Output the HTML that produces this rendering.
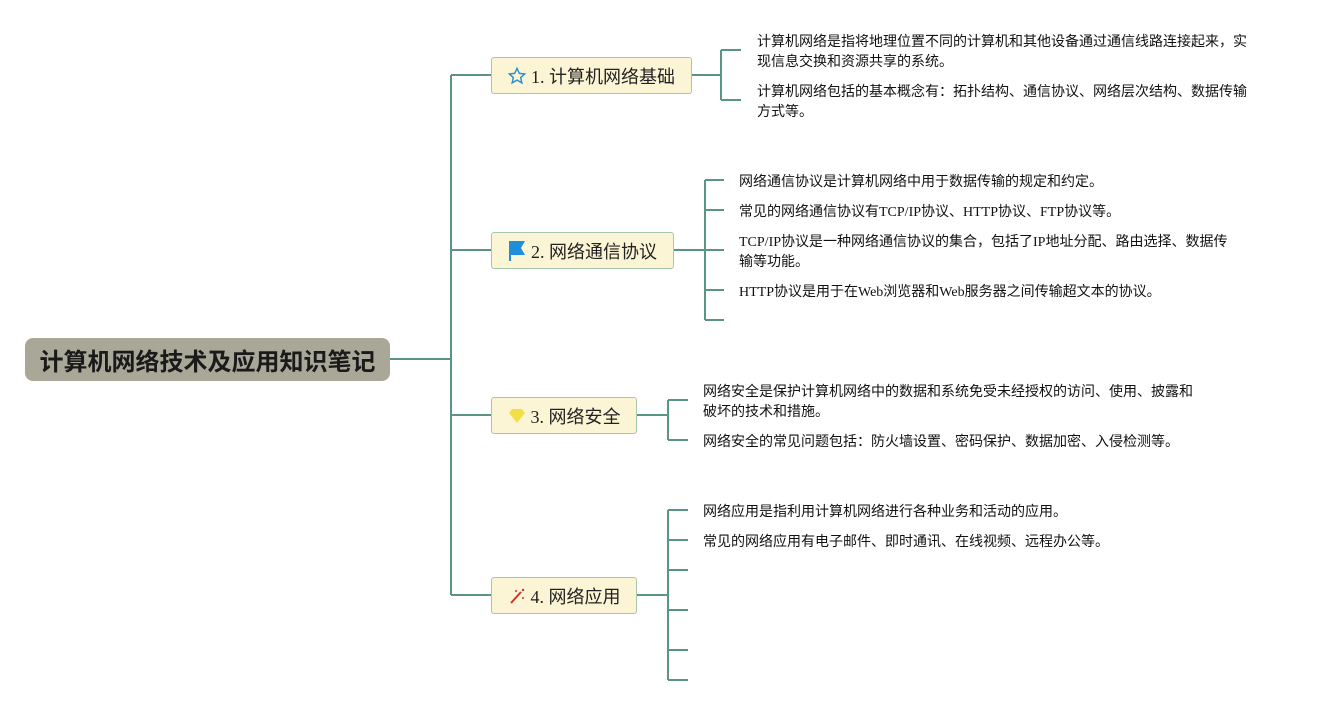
<!DOCTYPE html>
<html><head><meta charset="utf-8"><style>
body{margin:0;width:1317px;height:705px;background:#fff;position:relative;overflow:hidden;font-family:"Liberation Serif","Noto Sans CJK SC",serif;}
.root{position:absolute;left:25px;top:338px;width:365px;height:43px;background:#a9a898;border-radius:8px;font:bold 24px "Liberation Sans","Noto Sans CJK SC",sans-serif;color:#1a1a1a;display:flex;align-items:center;justify-content:center;}
.n{position:absolute;height:37px;background:#fcf5d5;border:1px solid #a6c6ae;border-radius:3px;font-size:18px;color:#222;display:flex;align-items:center;justify-content:center;gap:5px;box-sizing:border-box;}
.t{position:absolute;font-size:14px;line-height:20px;color:#111;white-space:nowrap;margin-top:2px;}
</style></head><body>
<svg width="1317" height="705" style="position:absolute;left:0;top:0" fill="none" stroke="#5a9486" stroke-width="2">
<path d="M390 359H451M451 75V595M451 75H491M451 250H491M451 415H491M451 595H491"/>
<path d="M692 75H721M721 50V100M721 50H741M721 100H741"/>
<path d="M674 250H705M705 180V320M705 180H724M705 210H724M705 250H724M705 290H724M705 320H724"/>
<path d="M637 415H668M668 400V440M668 400H688M668 440H688"/>
<path d="M637 595H668M668 510V680M668 510H688M668 540H688M668 570H688M668 610H688M668 650H688M668 680H688"/>
</svg>
<div class="root">计算机网络技术及应用知识笔记</div>
<div class="n" style="left:491px;top:57px;width:201px;"><svg width="18" height="18" viewBox="0 0 20 20"><path d="M10 1.5l2.6 5.6 6 .6-4.5 4 1.3 6L10 14.6 4.6 17.7l1.3-6-4.5-4 6-.6z" fill="none" stroke="#2a8fd0" stroke-width="1.6"/></svg>1. 计算机网络基础</div>
<div class="n" style="left:491px;top:232px;width:183px;"><svg width="18" height="22" viewBox="0 0 18 22"><path d="M1 1h16l-4 7 4 7H3v6H1z" fill="#1e8fd8"/></svg>2. 网络通信协议</div>
<div class="n" style="left:491px;top:397px;width:146px;"><svg width="18" height="16" viewBox="0 0 18 16"><path d="M4 1h10l3 4-8 10L1 5z" fill="#f1e04a"/></svg>3. 网络安全</div>
<div class="n" style="left:491px;top:577px;width:146px;"><svg width="18" height="18" viewBox="0 0 18 18"><path d="M3 16L13 5" stroke="#d0312d" stroke-width="2"/><circle cx="15" cy="3" r="1.2" fill="#d0312d"/><circle cx="8" cy="4" r="1" fill="#d0312d"/><circle cx="15" cy="11" r="1" fill="#d0312d"/></svg>4. 网络应用</div>
<div class="t" style="left:757px;top:31px;">计算机网络是指将地理位置不同的计算机和其他设备通过通信线路连接起来，实<br>现信息交换和资源共享的系统。</div>
<div class="t" style="left:757px;top:81px;">计算机网络包括的基本概念有：拓扑结构、通信协议、网络层次结构、数据传输<br>方式等。</div>
<div class="t" style="left:739px;top:171px;">网络通信协议是计算机网络中用于数据传输的规定和约定。</div>
<div class="t" style="left:739px;top:201px;">常见的网络通信协议有TCP/IP协议、HTTP协议、FTP协议等。</div>
<div class="t" style="left:739px;top:231px;">TCP/IP协议是一种网络通信协议的集合，包括了IP地址分配、路由选择、数据传<br>输等功能。</div>
<div class="t" style="left:739px;top:281px;">HTTP协议是用于在Web浏览器和Web服务器之间传输超文本的协议。</div>
<div class="t" style="left:703px;top:381px;">网络安全是保护计算机网络中的数据和系统免受未经授权的访问、使用、披露和<br>破坏的技术和措施。</div>
<div class="t" style="left:703px;top:431px;">网络安全的常见问题包括：防火墙设置、密码保护、数据加密、入侵检测等。</div>
<div class="t" style="left:703px;top:501px;">网络应用是指利用计算机网络进行各种业务和活动的应用。</div>
<div class="t" style="left:703px;top:531px;">常见的网络应用有电子邮件、即时通讯、在线视频、远程办公等。</div>
</body></html>
